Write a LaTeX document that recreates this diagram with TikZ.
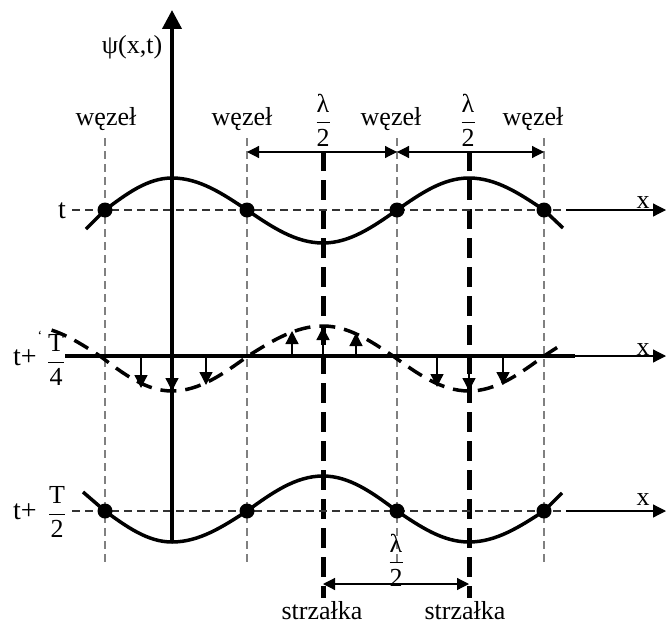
\documentclass[tikz,border=0pt]{standalone}
\usepackage{amsmath}
\usepackage{fontspec}
\setmainfont{Liberation Serif}
\usetikzlibrary{arrows.meta}
\begin{document}
\begin{tikzpicture}[x=1pt,y=-1pt,
  lab/.style={font=\fontsize{26}{30}\selectfont, inner sep=0pt},
  tlab/.style={font=\fontsize{28}{32}\selectfont, inner sep=0pt},
  frlab/.style={font=\fontsize{26}{30}\selectfont, inner sep=0pt},
  wave/.style={line width=3.5pt},
  wavedash/.style={line width=3.5pt, dash pattern=on 16pt off 9pt},
  vdash/.style={gray, line width=1.2pt, dash pattern=on 8pt off 5pt},
  hdash/.style={black!80, line width=1.2pt, dash pattern=on 8pt off 5pt},
  antinode/.style={line width=5pt, dash pattern=on 20pt off 9pt},
  tipS/.style={-{Triangle[length=13pt,width=13pt]}},
  dimarrow/.style={line width=1.2pt, {Triangle[length=12pt,width=12pt]}-{Triangle[length=12pt,width=12pt]}},
  varr/.style={line width=1.3pt, -{Triangle[length=13pt,width=13pt]}},
  dot/.style={circle, fill=black, inner sep=0pt, minimum size=15pt}]
\useasboundingbox (0,0) rectangle (666,626);

% vertical thin dashed lines at nodes
\foreach \x/\n in {105/a,247/b,397/c,544/d}{
  \coordinate (v\n t) at (\x,138);
  \coordinate (v\n b) at (\x,563);
  \draw[vdash] (v\n t) -- (v\n b);
}

% thick dashed antinode lines
\coordinate (s1t) at (323,151); \coordinate (s1b) at (323,598);
\coordinate (s2t) at (469,151); \coordinate (s2b) at (469,598);
\draw[antinode] (s1t) -- (s1b);
\draw[antinode] (s2t) -- (s2b);

% row 1 axis
\coordinate (r1s) at (72,210); \coordinate (r1m) at (566,210); \coordinate (r1e) at (666,210);
\draw[hdash] (r1s) -- (r1m);
\draw[line width=1.2pt, tipS] (r1m) -- (r1e);
% row 2 axis
\coordinate (r2s) at (65,356); \coordinate (r2m) at (575,356); \coordinate (r2e) at (666,356);
\draw[line width=4pt] (r2s) -- (r2m);
\draw[line width=1.2pt, tipS] (r2m) -- (r2e);
% row 3 axis
\coordinate (r3s) at (72,511); \coordinate (r3m) at (566,511); \coordinate (r3e) at (666,511);
\draw[hdash] (r3s) -- (r3m);
\draw[line width=1.2pt, tipS] (r3m) -- (r3e);

% y axis
\coordinate (yb) at (172,542); \coordinate (yt) at (172,10);
\draw[line width=4pt, -{Triangle[length=19pt,width=19pt]}] (yb) -- (yt);

% row 1 wave
\draw[wave] (86,229) -- (105,210) sin (172,178) cos (247,210) sin (323,243) cos (397,210) sin (469,178) cos (544,210) -- (563,228);
% row 3 wave
\draw[wave] (83,492) -- (105,511) sin (172,542) cos (247,511) sin (323,476) cos (397,511) sin (469,542) cos (544,511) -- (562,493);
% row 2 dashed wave
\begin{scope}
  \clip (50,300) rectangle (561,420);
  \draw[wavedash] (27,326) cos (100,356) sin (172,391) cos (248,356) sin (323,326) cos (393,356) sin (469,391) cos (544,356) sin (616,326);
\end{scope}

% node dots
\foreach \x/\n in {105/a,247/b,397/c,544/d}{
  \node[dot] (p1\n) at (\x,210) {};
  \node[dot] (p3\n) at (\x,511) {};
}

% velocity arrows in row 2
\foreach \x/\y [count=\i] in {141/388,172/391,206/385,292/331,323/327,356/333,437/387,469/391,503/385}{
  \coordinate (ab\i) at (\x,356);
  \coordinate (ae\i) at (\x,\y);
  \draw[varr] (ab\i) -- (ae\i);
}

% dimension arrows
\coordinate (d1a) at (247,152); \coordinate (d1b) at (397,152); \coordinate (d1c) at (544,152);
\draw[dimarrow] (d1a) -- (d1b);
\draw[dimarrow] (d1b) -- (d1c);
\coordinate (d2a) at (323,584); \coordinate (d2b) at (469,584);
\draw[dimarrow] (d2a) -- (d2b);

% labels
\node[lab] (psi) at (132,47) {ψ(x,t)};
\node[lab] (w1) at (106,119) {węzeł};
\node[lab] (w2) at (242,119) {węzeł};
\node[lab] (w3) at (391,119) {węzeł};
\node[lab] (w4) at (533,119) {węzeł};
\node[frlab] (lam1) at (323,120) {$\dfrac{\text{λ}}{\text{2}}$};
\node[frlab] (lam2) at (468,120) {$\dfrac{\text{λ}}{\text{2}}$};
\node[frlab] (lam3) at (396,560) {$\dfrac{\text{λ}}{\text{2}}$};
\node[tlab] (t1) at (62,211) {t};
\node[tlab] (t2) at (25,358) {t+};
\node[frlab] (T4) at (56,360) {$\dfrac{\text{T}}{\text{4}}$};
\node[font=\fontsize{14}{14}\selectfont, inner sep=0pt] (tick) at (40,336) {`};
\node[tlab] (t3) at (25,512) {t+};
\node[frlab] (T2) at (57,512) {$\dfrac{\text{T}}{\text{2}}$};
\node[lab] (x1) at (643,203) {x};
\node[lab] (x2) at (643,350) {x};
\node[lab] (x3) at (643,500) {x};
\node[lab] (sa) at (322,611) {strzałka};
\node[lab] (sb) at (465,611) {strzałka};
\end{tikzpicture}
\end{document}
